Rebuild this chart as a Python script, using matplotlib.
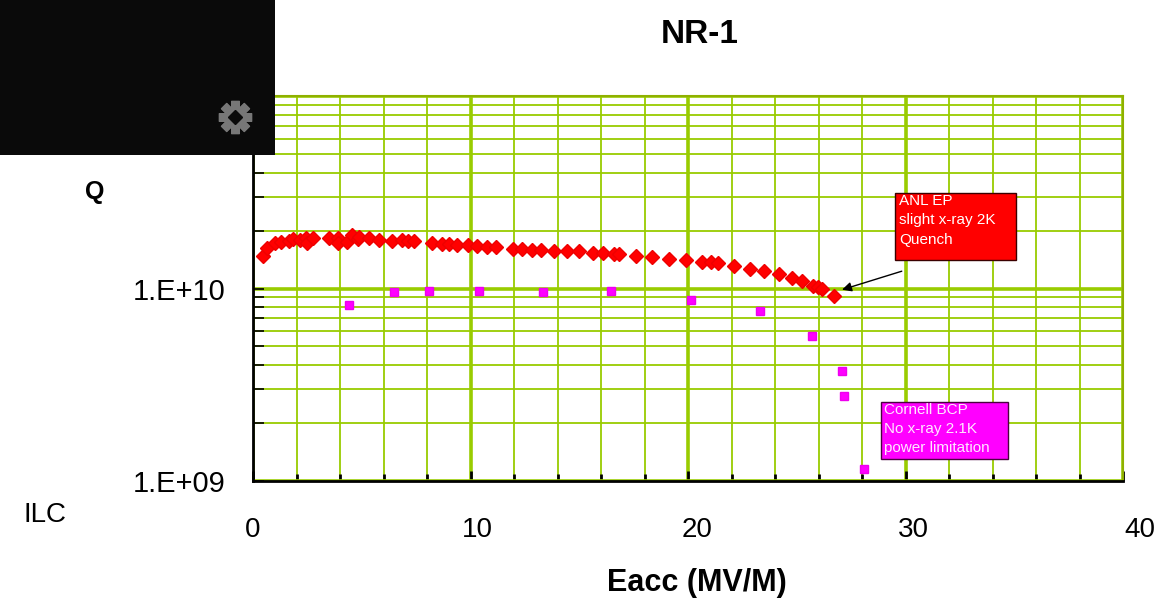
import numpy as np
import matplotlib
matplotlib.use("Agg")
import matplotlib.pyplot as plt
from matplotlib.patches import Rectangle
from matplotlib.lines import Line2D
from matplotlib.transforms import ScaledTranslation
from matplotlib.ticker import MultipleLocator, LogLocator, FixedLocator, FixedFormatter, NullFormatter

plt.rcParams['font.family'] = ['Liberation Sans', 'DejaVu Sans']

# ANL EP, 2K  (Q in units of 1e10)
anl_e = [0.46, 0.66, 1.03, 1.27, 1.64, 1.84, 2.17, 2.43, 2.46, 2.76,
         3.49, 3.92, 3.92, 4.3, 4.56, 4.81, 4.87, 5.35, 5.79, 6.37,
         6.83, 7.11, 7.42, 8.22, 8.68, 9.02, 9.4, 9.9, 10.32, 10.75,
         11.18, 11.94, 12.37, 12.83, 13.26, 13.84, 14.44, 14.98, 15.62, 16.08,
         16.59, 16.82, 17.62, 18.33, 19.12, 19.89, 20.63, 21.04, 21.4, 22.12,
         22.86, 23.5, 24.19, 24.76, 25.24, 25.76, 25.96, 26.14, 26.7]
anl_q = [1.47, 1.62, 1.72, 1.75, 1.77, 1.81, 1.79, 1.83, 1.72, 1.83,
         1.83, 1.83, 1.72, 1.75, 1.90, 1.81, 1.86, 1.83, 1.79, 1.77,
         1.78, 1.76, 1.76, 1.72, 1.70, 1.70, 1.69, 1.69, 1.67, 1.65,
         1.64, 1.61, 1.61, 1.59, 1.59, 1.57, 1.56, 1.56, 1.52, 1.52,
         1.51, 1.51, 1.48, 1.45, 1.42, 1.41, 1.37, 1.37, 1.36, 1.31,
         1.27, 1.24, 1.19, 1.14, 1.10, 1.03, 1.02, 1.00, 0.916]

# Cornell BCP, 2.1K  (Q in units of 1e10)
bcp_e = [4.42, 6.5, 8.08, 10.41, 13.32, 16.45, 20.15, 23.29, 25.7, 27.08, 27.19, 28.11]
bcp_q = [0.825, 0.96, 0.972, 0.972, 0.96, 0.972, 0.869, 0.767, 0.565, 0.371, 0.277, 0.116]

xtick_vals = [0, 10, 20, 30, 40]
ytick_vals = [1e9, 1e10, 1e11]
ytick_labels = ['1.E+09', '1.E+10', '1.E+11']

grid_c = '#99cc00'

fig = plt.figure(figsize=(11.76, 6.02), dpi=100)
ax = fig.add_axes([253/1176, 1-481/602, 870/1176, 385/602])

ax.plot(anl_e, np.array(anl_q)*1e10, 'D', color='#ff0000', ms=7, mec='#ee0000', zorder=5, clip_on=False)
ax.plot(bcp_e, np.array(bcp_q)*1e10, 's', color='#ff00ff', ms=6, mec='#ee00ee', zorder=5, clip_on=False)

ax.set_yscale('log')
ax.set_xlim(0, 40)
ax.set_ylim(1e9, 1e11)

ax.xaxis.set_major_locator(FixedLocator(xtick_vals))
ax.xaxis.set_minor_locator(MultipleLocator(2))
ax.yaxis.set_major_locator(FixedLocator(ytick_vals))
ax.yaxis.set_major_formatter(FixedFormatter(ytick_labels))
ax.yaxis.set_minor_locator(LogLocator(base=10, subs=np.arange(2, 10)))
ax.yaxis.set_minor_formatter(NullFormatter())

ax.grid(which='major', color=grid_c, lw=2.6)
ax.grid(which='minor', color=grid_c, lw=1.3)
ax.set_axisbelow(True)

ax.tick_params(axis='x', which='major', direction='in', length=7, width=2, labelsize=20, pad=26, color='black')
ax.tick_params(axis='x', which='minor', direction='in', length=5, width=2, color='black')
ax.tick_params(axis='y', which='major', direction='in', length=8, width=1.2, labelsize=21, pad=20)
ax.tick_params(axis='y', which='minor', direction='in', length=8, width=1.2)

for s in ['left', 'bottom']:
    ax.spines[s].set_color('black')
    ax.spines[s].set_linewidth(2)
for s in ['top', 'right']:
    ax.spines[s].set_color('#8fb000')
    ax.spines[s].set_linewidth(1.5)

# the x labels on the slide drift a little to the right of their ticks
label_shift = {0: 0, 10: 4.7, 20: 6.5, 30: 5.4, 40: 12.2}
fig.canvas.draw()
for tick in ax.xaxis.get_major_ticks():
    dx = label_shift.get(int(round(tick.get_loc())), 0)
    lab = tick.label1
    lab.set_transform(lab.get_transform() + ScaledTranslation(dx/72, 0, fig.dpi_scale_trans))

ax.set_title('NR-1', fontsize=24, fontweight='bold', x=0.513, pad=38)
ax.set_xlabel('Eacc (MV/M)', fontsize=22, fontweight='bold')
ax.xaxis.set_label_coords(0.51, -0.225)
ax.set_ylabel('Q', fontsize=18, fontweight='bold', rotation=0, va='center', ha='center')
ax.yaxis.set_label_coords(-0.182, 0.75)

# annotation boxes
ax.add_patch(Rectangle((29.54, 1.40e10), 5.53, 3.144e10-1.40e10, facecolor='#ff0000',
                       edgecolor='#3a0000', lw=1, zorder=6))
ax.text(29.7, 3.1e10, 'ANL EP\nslight x-ray 2K\nQuench', color='white', fontsize=11,
        va='top', ha='left', linespacing=1.5, zorder=7)
ax.add_patch(Rectangle((28.89, 0.1303e10), 5.81, 0.2561e10-0.1303e10, facecolor='#ff00ff',
                       edgecolor='#4a0040', lw=1, zorder=6))
ax.text(29.03, 0.254e10, 'Cornell BCP\nNo x-ray 2.1K\npower limitation', color='#ffe6ff', fontsize=11,
        va='top', ha='left', linespacing=1.45, zorder=7)
ax.annotate('', xy=(26.96, 0.976e10), xytext=(29.95, 1.242e10),
            arrowprops=dict(arrowstyle='-|>', color='black', lw=1, mutation_scale=14), zorder=7)

# slide decorations
fig.add_artist(Rectangle((0, 1-155/602), 275/1176, 155/602, transform=fig.transFigure,
                         facecolor='#0a0a0a', edgecolor='none', zorder=20))
fig.add_artist(Line2D([235/1176], [1-117/602], marker=(8, 2, 0), ms=24, mew=6,
                      color='#777777', transform=fig.transFigure, zorder=21))
fig.add_artist(Line2D([235/1176], [1-117/602], marker='D', ms=7, color='#0a0a0a',
                      transform=fig.transFigure, zorder=22))
fig.text(45/1176, 1-515/602, 'ILC', fontsize=20, ha='center', va='center')

fig.savefig('out.png', dpi=100)
